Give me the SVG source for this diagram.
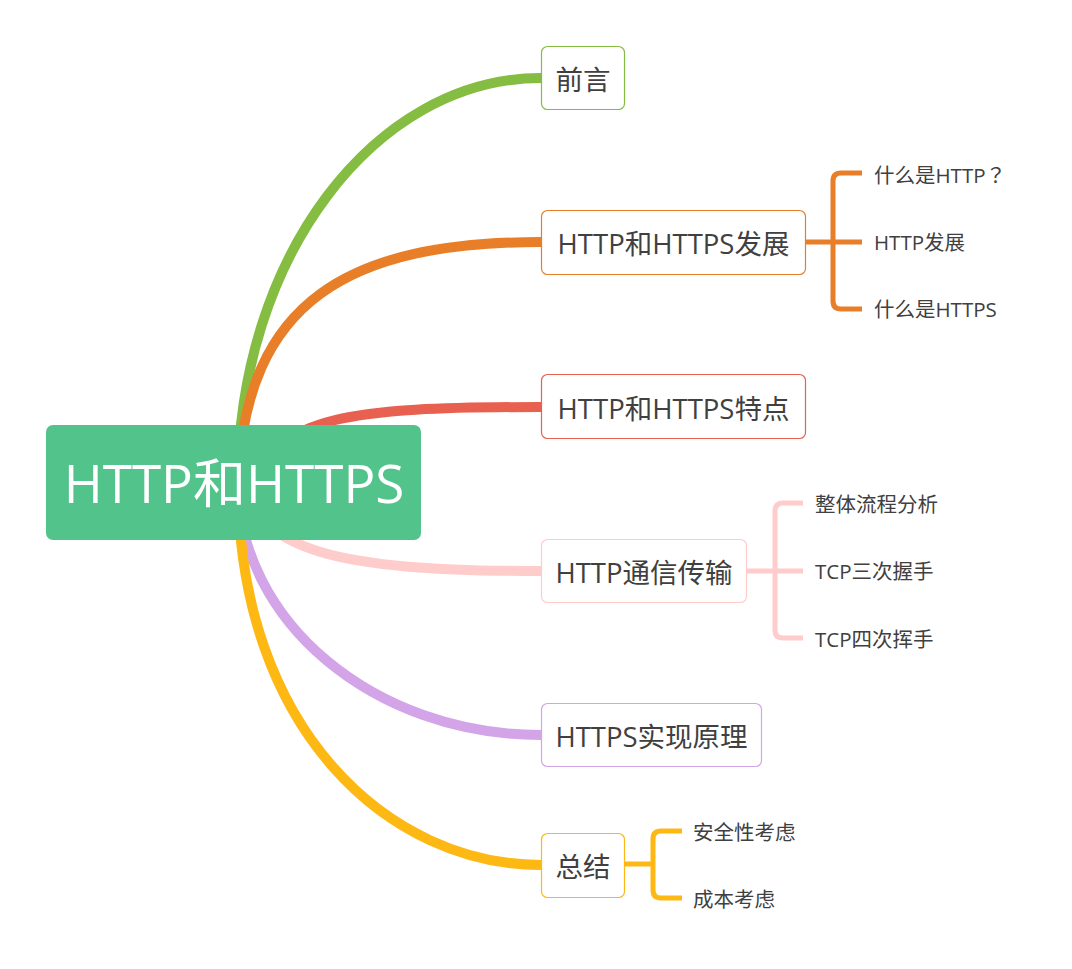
<svg xmlns="http://www.w3.org/2000/svg" width="1072" height="969" viewBox="0 0 1072 969">
<style>
.c{fill:none;stroke-width:10;stroke-linecap:butt}
.b{fill:none;stroke-width:5;stroke-linecap:butt;stroke-linejoin:round}
.box{fill:#fff;stroke-width:1.2}
.t{font-family:"Open Sans","Noto Sans CJK SC",sans-serif;font-size:27.5px;fill:#404040;text-anchor:middle}
.s{font-family:"Open Sans","Noto Sans CJK SC",sans-serif;font-size:20.5px;fill:#404040}
</style>
<rect width="1072" height="969" fill="#fff"/>
<g id="connectors">
<path class="c" stroke="#84bd41" d="M238 482 C238 259 374 78 541 78"/>
<path class="c" stroke="#e87f28" d="M238 482 C245 300 350 242 541 242"/>
<path class="c" stroke="#e8604f" d="M250 482 C285 418 340 407 541 407"/>
<path class="c" stroke="#ffcccc" d="M238 482 C265 550 330 571 541 571"/>
<path class="c" stroke="#d3a5e8" d="M238 482 C238 621 374 735 541 735"/>
<path class="c" stroke="#fdb813" d="M238 482 C238 731 390 865 541 865"/>
<path class="b" stroke="#e87f28" d="M806 242 H862 M862 173 H841 Q833 173 833 181 V301 Q833 309 841 309 H862"/>
<path class="b" stroke="#ffcccc" d="M747 571 H803 M803 503 H783 Q775 503 775 511 V630 Q775 638 783 638 H803"/>
<path class="b" stroke="#fdb813" d="M625 864 H653 M682 831 H661 Q653 831 653 839 V890 Q653 898 661 898 H682"/>
</g>
<g id="root">
<rect x="46" y="425" width="375" height="115" rx="7" fill="#51c38b"/>
<text x="234" y="503" font-family="Open Sans,Noto Sans CJK SC,sans-serif" font-size="53" fill="#fff" text-anchor="middle">HTTP和HTTPS</text>
</g>
<g id="n1"><rect class="box" x="541.5" y="46.5" width="83" height="63" rx="6" stroke="#84bd41"/><text class="t" x="583" y="90">前言</text></g>
<g id="n2"><rect class="box" x="541.5" y="210.5" width="264" height="64" rx="6" stroke="#e87f28"/><text class="t" x="673.5" y="254">HTTP和HTTPS发展</text></g>
<g id="n3"><rect class="box" x="541.5" y="374.5" width="264" height="64" rx="6" stroke="#e8604f"/><text class="t" x="673.5" y="419">HTTP和HTTPS特点</text></g>
<g id="n4"><rect class="box" x="541.5" y="539.5" width="205" height="63" rx="6" stroke="#ffcccc"/><text class="t" x="644" y="583">HTTP通信传输</text></g>
<g id="n5"><rect class="box" x="541.5" y="703.5" width="220" height="63" rx="6" stroke="#d3a5e8"/><text class="t" x="651.5" y="747">HTTPS实现原理</text></g>
<g id="n6"><rect class="box" x="541.5" y="833.5" width="83" height="64" rx="6" stroke="#fdb813"/><text class="t" x="583" y="877">总结</text></g>
<g id="n2a"><text class="s" x="874" y="183">什么是HTTP<tspan font-family="Noto Sans CJK TC,sans-serif">？</tspan></text></g>
<g id="n2b"><text class="s" x="874" y="250">HTTP发展</text></g>
<g id="n2c"><text class="s" x="874" y="317">什么是HTTPS</text></g>
<g id="n4a"><text class="s" x="815" y="512">整体流程分析</text></g>
<g id="n4b"><text class="s" x="815" y="579">TCP三次握手</text></g>
<g id="n4c"><text class="s" x="815" y="647">TCP四次挥手</text></g>
<g id="n6a"><text class="s" x="693" y="840">安全性考虑</text></g>
<g id="n6b"><text class="s" x="693" y="907">成本考虑</text></g>
</svg>
